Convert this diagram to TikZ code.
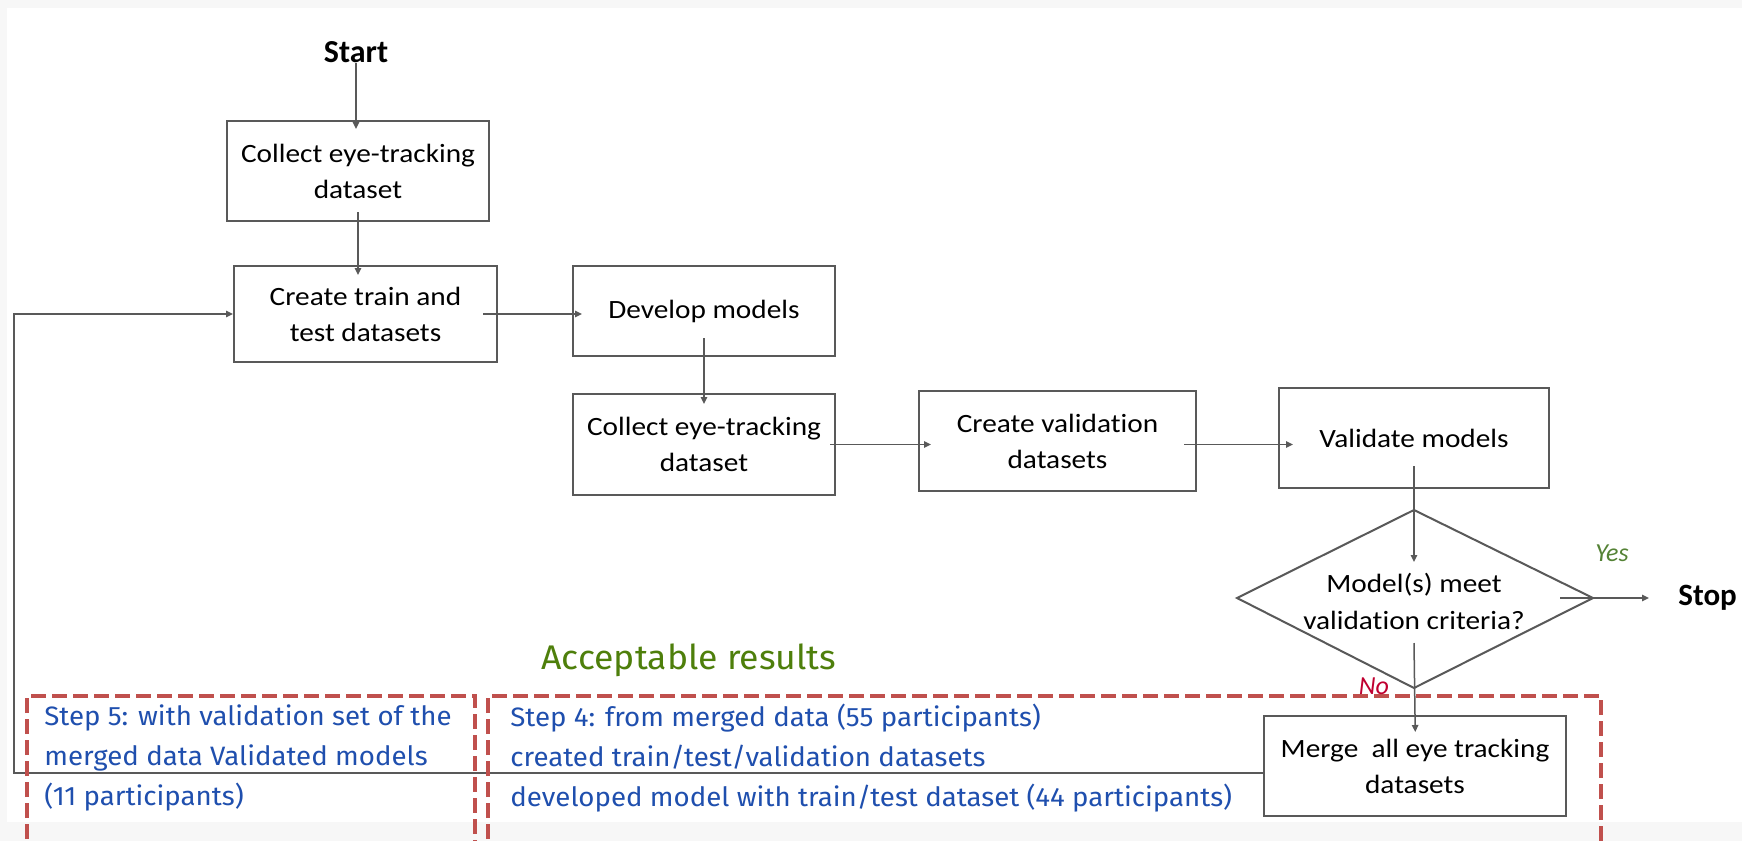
\documentclass[tikz,border=0pt]{standalone}
\usepackage{fontspec}
\setmainfont{Carlito}
\newfontfamily\boxfont[FakeStretch=1.11,Ligatures=NoCommon]{Carlito}
\newfontfamily\stepfont[FakeStretch=1.04]{Fira Sans}
\usetikzlibrary{arrows.meta}
\definecolor{linegray}{HTML}{595959}
\definecolor{dashred}{HTML}{C0504D}
\definecolor{stepblue}{HTML}{1F4FAE}
\definecolor{accgreen}{HTML}{4E7F0B}
\definecolor{yesgreen}{HTML}{548235}
\definecolor{nored}{HTML}{C00030}
\definecolor{bggray}{HTML}{F7F7F7}
\tikzset{
  procbox/.style={draw=linegray, line width=1pt, fill=white, align=center, inner sep=0pt,
    font=\boxfont\fontsize{13.2}{18}\selectfont},
  conn/.style={draw=linegray, line width=0.75pt},
  arr/.style={conn, -{Triangle[length=3.5pt,width=3.2pt]}},
  dashbox/.style={draw=dashred, line width=1.6pt, dash pattern=on 7.5pt off 3pt},
  steptext/.style={text=stepblue, font=\stepfont\fontsize{13.3}{20}\selectfont, align=left, anchor=north west, inner sep=0pt}
}
\begin{document}
\begin{tikzpicture}[x=0.5pt,y=-0.5pt]
\useasboundingbox (0,0) rectangle (1742,841);
\clip (0,0) rectangle (1742,841);
\fill[bggray] (0,0) rectangle (1742,841);
\fill[white] (7,8) rectangle (1742,822);

% nodes
\node[font=\bfseries\fontsize{16}{18}\selectfont, inner sep=0pt] (start) at (356,52) {Start};
\node[procbox, minimum width=131pt, minimum height=50pt] (b1) at (358,171) {Collect eye-tracking\\dataset};
\node[procbox, minimum width=131.5pt, minimum height=48pt] (b2) at (365.5,314) {Create train and\\test datasets};
\node[procbox, minimum width=131pt, minimum height=45pt] (b3) at (704,311) {Develop models};
\node[procbox, minimum width=131pt, minimum height=50.5pt] (b4) at (704,444.5) {Collect eye-tracking\\dataset};
\node[procbox, minimum width=138.5pt, minimum height=50pt] (b5) at (1057.5,441) {Create validation\\datasets};
\node[procbox, minimum width=135pt, minimum height=50pt] (b6) at (1414,438) {Validate models};

% diamond
\coordinate (dtop) at (1414,510);
\coordinate (dleft) at (1237,598);
\coordinate (dright) at (1593,598);
\coordinate (dbottom) at (1414,688);
\draw[conn, line width=1pt, fill=white] (dtop) -- (dright) -- (dbottom) -- (dleft) -- cycle;
\node[align=center, inner sep=0pt, font=\boxfont\fontsize{13.2}{18.5}\selectfont] (dtext) at (1414,601) {Model(s) meet\\validation criteria?};
\coordinate (dtip) at (1414,562);
\coordinate (dlow) at (1414,643);
\coordinate (dyes) at (1560,598);

\node[font=\bfseries\fontsize{15.5}{18}\selectfont, anchor=west, inner sep=0pt, inner xsep=14.5pt] (stop) at (1649,598) {Stop};
\node[text=yesgreen, font=\itshape\fontsize{13}{15}\selectfont, inner sep=0pt] (yes) at (1612,553) {Yes};

% merge box
\node[procbox, minimum width=151pt, minimum height=50pt] (merge) at (1415,766) {Merge\ \ all eye tracking\\datasets};

% connectors
\draw[arr, shorten >=-4.5pt] (start.south) -- (start.south |- b1.north);
\draw[arr, shorten <=-5pt, shorten >=-5pt] (b1.south) -- (b1.south |- b2.north);
\draw[arr, shorten <=-7.5pt, shorten >=-5pt] (b2.east) -- (b2.east -| b3.west);
\draw[arr, shorten <=-9.5pt, shorten >=-5.5pt] (b3.south) -- (b4.north);
\draw[arr, shorten <=-3pt, shorten >=-6.5pt] (b4.east) -- (b4.east -| b5.west);
\draw[arr, shorten <=-6.5pt, shorten >=-7.5pt] (b5.east |- b4.east) -- (b4.east -| b6.west);
\draw[arr, shorten <=-11.5pt] (b6.south) -- (dtip);
\draw[arr] (dyes) -- (stop.west);
\draw[arr, shorten >=-8.5pt] (dlow) -- (merge.north);
\coordinate (loopa) at (14,773);
\draw[arr] ([yshift=-3.5pt]merge.west) -- (loopa) |- (b2.west);

% dashed region boxes
\draw[dashbox] (27,860) -- (27,696) -- (475,696) -- (475,860);
\draw[dashbox] (488,860) -- (488,696) -- (1601,696) -- (1601,860);

\node[text=nored, font=\itshape\fontsize{13}{15}\selectfont, inner sep=0pt] (no) at (1374,686) {No};

\node[text=accgreen, font=\stepfont\fontsize{17.1}{19}\selectfont, inner sep=0pt] (acc) at (689,660) {Acceptable results};

\node[steptext] (s5) at (44,704) {Step 5: with validation set of the\\merged data Validated models\\(11 participants)};
\node[steptext] (s4) at (510,704) {Step 4: from merged data (55 participants)\\created train/test/validation datasets\\developed model with train/test dataset (44 participants)};
\end{tikzpicture}
\end{document}
